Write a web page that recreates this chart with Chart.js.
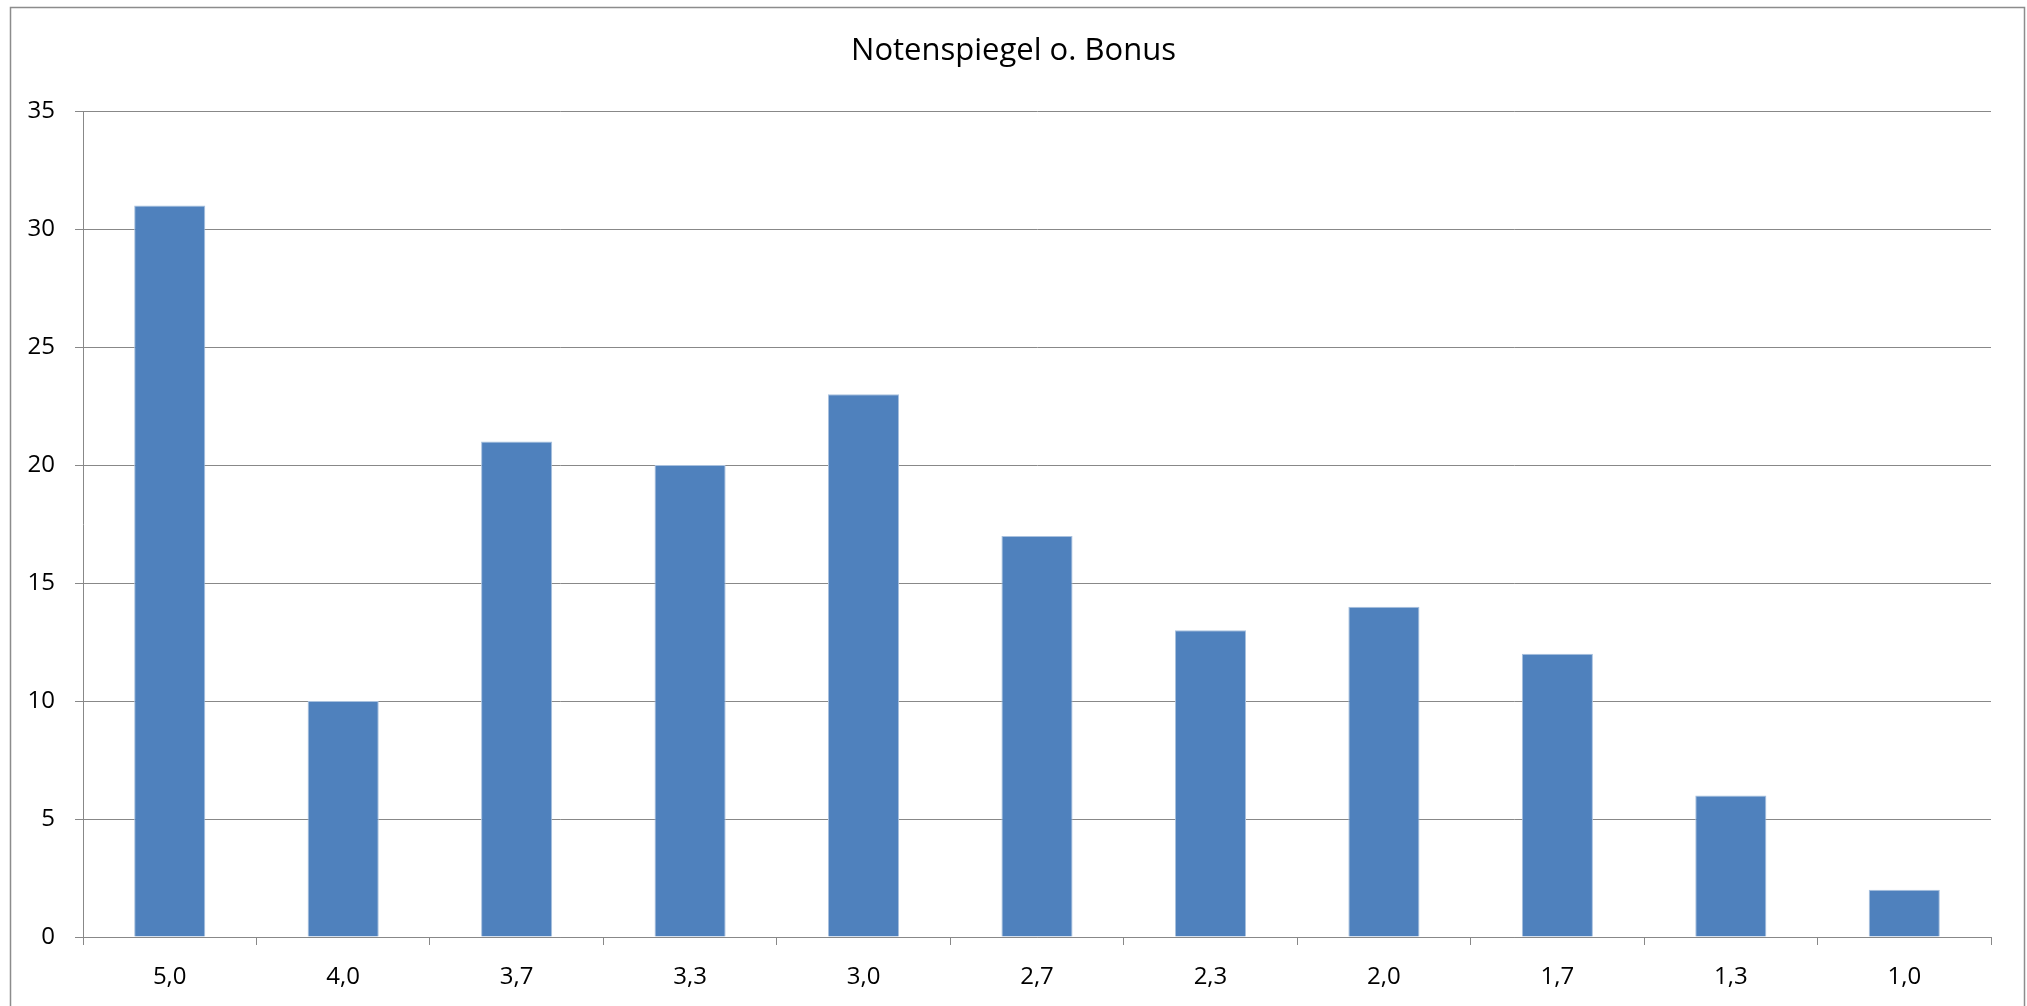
<!DOCTYPE html>
<html>
<head>
<meta charset="utf-8">
<script src="https://cdn.jsdelivr.net/npm/chart.js@4/dist/chart.umd.min.js"></script>
<style>
  html, body { margin: 0; padding: 0; background: #fff; }
  #wrap { position: relative; width: 2027px; height: 1006px; }
</style>
</head>
<body>
<div id="wrap"><canvas id="chart"></canvas></div>
<script>
// --- Daten ---
const noten = ['5,0', '4,0', '3,7', '3,3', '3,0', '2,7', '2,3', '2,0', '1,7', '1,3', '1,0'];
const anzahl = [31, 10, 21, 20, 23, 17, 13, 14, 12, 6, 2];
const yMax = 35;
const yStep = 5;

const FONT = '"Open Sans", "Liberation Sans", sans-serif';
const GRID = '#888888';

// Rahmen um das ganze Diagramm (wie Excel)
const rahmen = {
  id: 'rahmen',
  beforeDraw(chart) {
    const ctx = chart.ctx;
    ctx.save();
    ctx.fillStyle = '#ffffff';
    ctx.fillRect(0, 0, chart.width, chart.height);
    ctx.strokeStyle = '#8c8c8c';
    ctx.lineWidth = 1.5;
    ctx.strokeRect(10.5, 7.5, 2014, 1010);
    ctx.restore();
  }
};

new Chart(document.getElementById('chart'), {
  type: 'bar',
  data: {
    labels: noten,
    datasets: [{
      label: 'Anzahl',
      data: anzahl,
      backgroundColor: '#4f81bd',
      borderColor: '#a9c1de',
      borderWidth: 1,
      barPercentage: 0.41,
      categoryPercentage: 1.0
    }]
  },
  options: {
    responsive: true,
    maintainAspectRatio: false,
    animation: false,
    layout: { padding: 0 },
    plugins: {
      legend: { display: false },
      tooltip: { enabled: false },
      title: {
        display: true,
        text: 'Notenspiegel o. Bonus',
        color: '#000',
        font: { family: FONT, size: 31, weight: 'normal' },
        padding: { top: 33, bottom: 41 }
      }
    },
    scales: {
      x: {
        grid: {
          drawOnChartArea: false,
          drawTicks: true,
          tickLength: 8,
          color: GRID,
          offset: true
        },
        border: { color: GRID, width: 1 },
        ticks: {
          color: '#000',
          padding: 18,
          maxRotation: 0,
          font: { family: FONT, size: 24 }
        },
        afterFit(scale) { scale.height = 69; }
      },
      y: {
        min: 0,
        max: yMax,
        grid: { color: GRID, tickLength: 8 },
        border: { color: GRID, width: 1 },
        ticks: {
          stepSize: yStep,
          color: '#000',
          padding: 20,
          font: { family: FONT, size: 24 }
        },
        afterFit(scale) { scale.width = 83; }
      },
      // leerer Rand rechts, damit der Titel mittig bleibt
      rechts: {
        type: 'linear',
        position: 'right',
        display: true,
        grid: { display: false, drawTicks: false },
        border: { display: false },
        ticks: { display: false },
        afterFit(scale) { scale.width = 36; }
      }
    }
  },
  plugins: [rahmen]
});
</script>
</body>
</html>
